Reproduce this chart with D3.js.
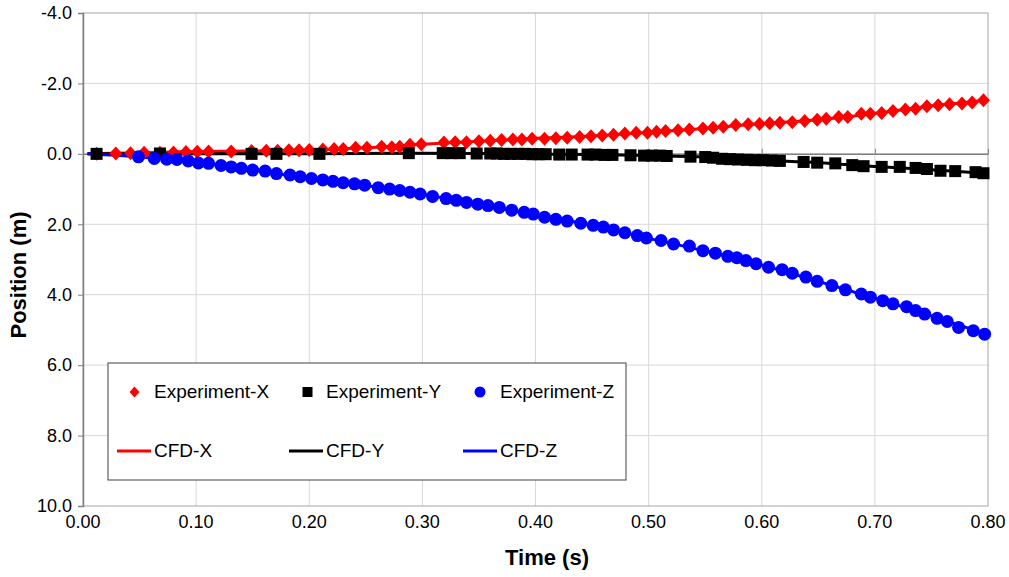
<!DOCTYPE html>
<html><head><meta charset="utf-8">
<script src="https://cdn.jsdelivr.net/npm/d3@7"></script>
<style>body{margin:0;background:#fff;} svg{display:block;font-family:Arial,"Liberation Sans",sans-serif;}</style>
</head><body><svg id="c" width="1009" height="577"></svg>
<script>
// ---- Data ----
const expXTime = [0.012,0.029,0.042,0.054,0.068,0.080,0.091,0.101,0.111,0.131,0.149,0.162,0.172,0.182,0.191,0.200,
  0.212,0.222,0.230,0.241,0.251,0.264,0.273,0.280,0.289,0.299,0.319,0.329,0.339,0.350,0.360,0.370,0.380,0.388,0.397,
  0.408,0.418,0.428,0.439,0.449,0.459,0.469,0.479,0.489,0.499,0.507,0.515,0.526,0.536,0.548,0.557,0.566,0.577,0.588,0.598,
  0.607,0.616,0.627,0.638,0.649,0.657,0.668,0.676,0.688,0.696,0.706,0.716,0.727,0.736,0.746,0.756,0.766,0.777,0.786,0.796];
const expXPos = [0.0,-0.01,-0.02,-0.03,-0.03,-0.04,-0.05,-0.06,-0.07,-0.07,-0.08,-0.09,-0.09,-0.10,-0.10,-0.11,
  -0.125,-0.14,-0.14,-0.17,-0.17,-0.20,-0.19,-0.20,-0.26,-0.27,-0.32,-0.33,-0.33,-0.36,-0.37,-0.39,-0.41,-0.41,-0.43,
  -0.43,-0.44,-0.46,-0.48,-0.50,-0.52,-0.54,-0.58,-0.60,-0.60,-0.63,-0.65,-0.67,-0.69,-0.72,-0.74,-0.77,-0.82,-0.84,-0.85,
  -0.87,-0.88,-0.90,-0.93,-0.97,-1.00,-1.05,-1.05,-1.14,-1.14,-1.16,-1.22,-1.26,-1.28,-1.35,-1.38,-1.41,-1.43,-1.46,-1.52];

const expYTime = [0.012,0.068,0.149,0.171,0.209,0.288,0.318,0.326,0.333,0.348,0.360,0.366,0.372,0.378,0.385,0.391,0.397,
  0.403,0.409,0.421,0.432,0.446,0.453,0.461,0.468,0.484,0.496,0.503,0.510,0.516,0.537,0.550,0.557,0.565,0.572,0.579,0.587,
  0.594,0.601,0.609,0.616,0.637,0.649,0.665,0.680,0.690,0.706,0.722,0.736,0.746,0.758,0.771,0.789,0.796];
const expYPos = [0.0,-0.01,0.0,0.0,0.0,-0.02,-0.02,-0.02,-0.02,-0.01,-0.01,-0.01,0.0,0.0,0.0,0.0,0.01,
  0.01,0.01,0.02,0.02,0.02,0.02,0.03,0.03,0.04,0.05,0.05,0.05,0.06,0.08,0.09,0.11,0.14,0.15,0.16,0.17,
  0.18,0.18,0.19,0.20,0.23,0.25,0.27,0.32,0.35,0.37,0.37,0.40,0.43,0.48,0.49,0.52,0.55];

const expZTime = [0.049,0.063,0.074,0.083,0.093,0.102,0.111,0.122,0.131,0.140,0.150,0.161,0.171,0.183,0.192,0.202,
  0.212,0.221,0.230,0.240,0.249,0.261,0.271,0.280,0.289,0.298,0.309,0.321,0.330,0.339,0.349,0.358,0.368,0.379,0.390,0.398,
  0.408,0.418,0.428,0.440,0.451,0.460,0.469,0.479,0.490,0.498,0.511,0.522,0.536,0.548,0.559,0.570,0.578,0.586,0.595,
  0.606,0.618,0.627,0.639,0.649,0.662,0.674,0.688,0.696,0.707,0.716,0.728,0.736,0.744,0.755,0.764,0.774,0.787,0.797];
const expZPos = [0.085,0.13,0.15,0.16,0.20,0.26,0.27,0.33,0.37,0.41,0.46,0.49,0.56,0.60,0.65,0.70,
  0.74,0.78,0.82,0.85,0.89,0.96,1.00,1.04,1.09,1.14,1.21,1.27,1.32,1.38,1.43,1.47,1.52,1.60,1.66,1.71,
  1.80,1.86,1.91,1.97,2.03,2.08,2.16,2.24,2.32,2.39,2.46,2.56,2.62,2.75,2.82,2.91,2.95,3.03,3.12,
  3.22,3.29,3.39,3.50,3.62,3.74,3.86,3.98,4.07,4.17,4.26,4.34,4.45,4.55,4.67,4.76,4.93,5.02,5.12];

const cfdTime = [0.004,0.05,0.10,0.15,0.20,0.25,0.30,0.35,0.40,0.45,0.50,0.55,0.60,0.65,0.70,0.75,0.80];
const cfdX = [0,-0.03,-0.07,-0.08,-0.11,-0.17,-0.27,-0.36,-0.44,-0.51,-0.61,-0.72,-0.86,-0.97,-1.15,-1.36,-1.52];
const cfdY = [0,0,0,0,0,-0.01,-0.02,-0.01,0.01,0.02,0.05,0.09,0.18,0.25,0.36,0.45,0.56];
const cfdZ = [0,0.09,0.24,0.46,0.70,0.90,1.15,1.43,1.73,2.03,2.40,2.76,3.16,3.62,4.10,4.60,5.14];

const xTicks = [0,0.1,0.2,0.3,0.4,0.5,0.6,0.7,0.8];
const xTickLabels = ["0.00","0.10","0.20","0.30","0.40","0.50","0.60","0.70","0.80"];
const yTicks = [-4,-2,0,2,4,6,8,10];
const yTickLabels = ["-4.0","-2.0","0.0","2.0","4.0","6.0","8.0","10.0"];

const seriesNames = ["Experiment-X","Experiment-Y","Experiment-Z","CFD-X","CFD-Y","CFD-Z"];
const colors = ["#ff0000","#000000","#0000ff"];

// ---- Layout ----
const L = 83, R = 988, T = 13, B = 506;
const svg = d3.select("#c");
const x = d3.scaleLinear().domain([0,0.8]).range([L,R]);
const y = d3.scaleLinear().domain([-4,10]).range([T,B]);

// grid
const g = svg.append("g");
g.selectAll(".vg").data(xTicks.slice(1,-1)).join("line")
  .attr("x1",d=>x(d)).attr("x2",d=>x(d)).attr("y1",T).attr("y2",B)
  .attr("stroke","#d9d9d9").attr("stroke-width",1);
g.selectAll(".hg").data(yTicks.slice(1,-1)).join("line")
  .attr("x1",L).attr("x2",R).attr("y1",d=>y(d)).attr("y2",d=>y(d))
  .attr("stroke","#d9d9d9").attr("stroke-width",1);
// border
svg.append("rect").attr("x",L).attr("y",T).attr("width",R-L).attr("height",B-T)
  .attr("fill","none").attr("stroke","#a6a6a6").attr("stroke-width",1);

// y axis
const yAxis = d3.axisLeft(y).tickValues(yTicks).tickFormat((d,i)=>yTickLabels[i]).tickSize(5).tickPadding(6);
const ya = svg.append("g").attr("transform",`translate(${L},0)`).call(yAxis);
ya.select(".domain").attr("stroke","#808080").attr("stroke-width",1.5);
ya.selectAll(".tick line").attr("stroke","#808080");
ya.selectAll("text").attr("font-size",18).attr("fill","#000").attr("font-family","Arial, 'Liberation Sans', sans-serif");

// x axis line at y=0, ticks upward, labels at bottom
const xAxis = d3.axisTop(x).tickValues(xTicks).tickFormat("").tickSize(5).tickSizeOuter(0);
const xa = svg.append("g").attr("transform",`translate(0,${y(0)})`).call(xAxis);
xa.select(".domain").attr("stroke","#808080").attr("stroke-width",1.5);
xa.selectAll(".tick line").attr("stroke","#808080");
svg.append("g").selectAll("text").data(xTicks).join("text")
  .attr("x",d=>x(d)).attr("y",528).attr("text-anchor","middle")
  .attr("font-size",18).text((d,i)=>xTickLabels[i]);

// titles
svg.append("text").attr("x",547).attr("y",565).attr("text-anchor","middle")
  .attr("font-size",22).attr("font-weight","bold").text("Time (s)");
svg.append("text").attr("transform","translate(26,275) rotate(-90)").attr("text-anchor","middle")
  .attr("font-size",22).attr("font-weight","bold").text("Position (m)");

// CFD lines
const line = d3.line().x(d=>x(d[0])).y(d=>y(d[1])).curve(d3.curveMonotoneX);
[cfdX,cfdY,cfdZ].forEach((arr,i)=>{
  svg.append("path").datum(cfdTime.map((t,j)=>[t,arr[j]]))
    .attr("d",line).attr("fill","none").attr("stroke",colors[i]).attr("stroke-width",3);
});

// markers
const diamond = "M0,-7L6.5,0L0,7L-6.5,0Z";
svg.append("g").selectAll("path").data(expXTime.map((t,i)=>[t,expXPos[i]])).join("path")
  .attr("d",diamond).attr("transform",d=>`translate(${x(d[0])},${y(d[1])})`).attr("fill",colors[0]);
svg.append("g").selectAll("rect").data(expYTime.map((t,i)=>[t,expYPos[i]])).join("rect")
  .attr("x",d=>x(d[0])-6).attr("y",d=>y(d[1])-6).attr("width",12).attr("height",12).attr("fill",colors[1]);
svg.append("g").selectAll("circle").data(expZTime.map((t,i)=>[t,expZPos[i]])).join("circle")
  .attr("cx",d=>x(d[0])).attr("cy",d=>y(d[1])).attr("r",6.5).attr("fill",colors[2]);

// legend
const lg = svg.append("g");
lg.append("rect").attr("x",108).attr("y",363).attr("width",518).attr("height",117)
  .attr("fill","#fff").attr("stroke","#404040").attr("stroke-width",1);
const colX = [134.5,307.5,480];
const textX = [154,326,500];
lg.append("path").attr("d","M0,-5.5L5,0L0,5.5L-5,0Z").attr("transform",`translate(${colX[0]},392)`).attr("fill",colors[0]);
lg.append("rect").attr("x",colX[1]-5).attr("y",387).attr("width",10).attr("height",10).attr("fill",colors[1]);
lg.append("circle").attr("cx",colX[2]).attr("cy",392).attr("r",5.5).attr("fill",colors[2]);
[0,1,2].forEach(i=>{
  lg.append("text").attr("x",textX[i]).attr("y",398).attr("font-size",19).text(seriesNames[i]);
  lg.append("line").attr("x1",textX[i]-37).attr("x2",textX[i]-3).attr("y1",451).attr("y2",451)
    .attr("stroke",colors[i]).attr("stroke-width",3);
  lg.append("text").attr("x",textX[i]).attr("y",457).attr("font-size",19).text(seriesNames[i+3]);
});
</script></body></html>
